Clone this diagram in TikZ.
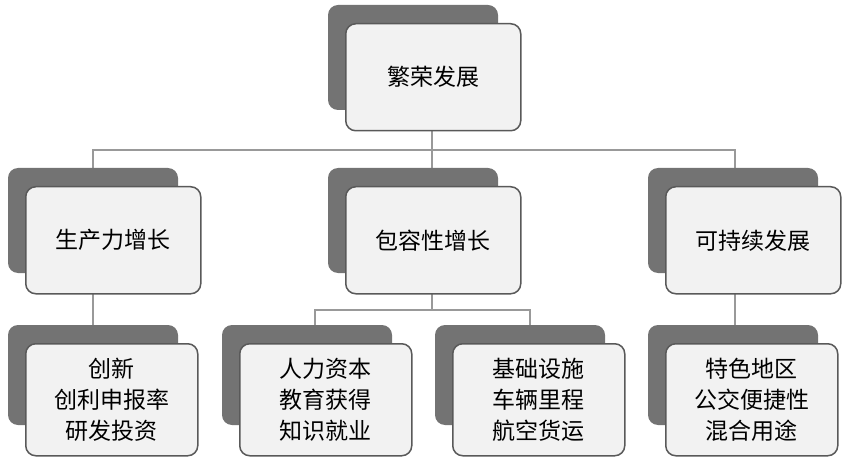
\documentclass[tikz,border=0pt]{standalone}
\usepackage{fontspec}
\newfontfamily\cjk{Noto Sans CJK SC}
\begin{document}
\begin{tikzpicture}[x=1pt,y=-1pt,
  backbox/.style={fill=black!55,rounded corners=10pt},
  frontbox/.style={fill=black!5,draw=black!65,line width=1.5pt,rounded corners=10pt,font=\cjk\fontsize{23}{31}\selectfont,align=center,inner sep=0pt},
  conn/.style={draw=black!40,line width=1.5pt}]
\useasboundingbox (0,0) rectangle (850,462);
% connectors
\coordinate (j1) at (93,150);
\coordinate (j2) at (735,150);
\coordinate (j3) at (315,310);
\coordinate (j4) at (530,310);
\draw[conn] (432,130) -- (432,150);
\draw[conn] (93,185) -- (j1) -- (j2) -- (735,185);
\draw[conn] (432,150) -- (432,185);
\draw[conn] (93,292) -- (93,343);
\draw[conn] (735,292) -- (735,343);
\draw[conn] (432,292) -- (432,310);
\draw[conn] (315,343) -- (j3) -- (j4) -- (530,343);
% boxes
\newcommand{\mybox}[6]{%
  \fill[backbox] (#1,#2) rectangle ++(170,105);
  \node[frontbox,minimum width=175pt,minimum height=107pt,anchor=north west] (#5) at (#1+17,#2+18) {#6};}
\mybox{328}{5}{}{}{top}{繁荣发展}
\mybox{8}{168}{}{}{a}{生产力增长}
\mybox{328}{168}{}{}{b}{包容性增长}
\mybox{648}{168}{}{}{c}{可持续发展}
\newcommand{\smbox}[4]{%
  \fill[backbox] (#1,#2) rectangle ++(170,100);
  \node[frontbox,minimum width=172pt,minimum height=112pt,anchor=north west] (#3) at (#1+17,#2+18) {#4};}
\smbox{8}{325}{a1}{创新\\创利申报率\\研发投资}
\smbox{222}{325}{b1}{人力资本\\教育获得\\知识就业}
\smbox{435}{325}{b2}{基础设施\\车辆里程\\航空货运}
\smbox{648}{325}{c1}{特色地区\\公交便捷性\\混合用途}
\end{tikzpicture}
\end{document}
